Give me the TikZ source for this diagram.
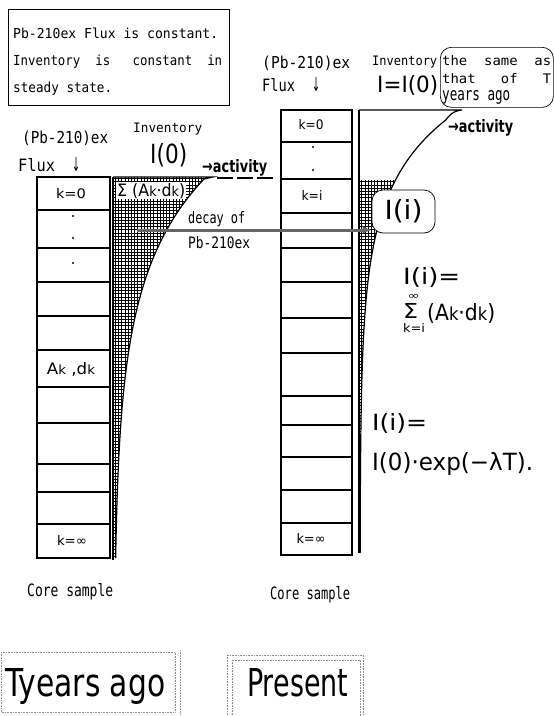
\documentclass[tikz,border=0pt]{standalone}
\usepackage{fontspec}
\usepackage{graphicx}
\setmainfont{DejaVu Sans}
\newfontfamily\gm{DejaVu Sans Mono}
\newfontfamily\gs[FakeStretch=0.8]{DejaVu Sans}
\usetikzlibrary{patterns,arrows.meta}
\newcommand{\fw}[2]{\resizebox{#1pt}{!}{#2}}
\newcommand{\fwh}[3]{\resizebox{#1pt}{#2pt}{#3}}
\newcommand{\sk}{{\fontsize{8}{8}\selectfont k}}
\pgfdeclarepatternformonly{hgrid}{\pgfpoint{-0.5pt}{-0.5pt}}{\pgfpoint{3.8pt}{3.8pt}}{\pgfpoint{3.2pt}{3.2pt}}{%
  \pgfsetlinewidth{0.55pt}%
  \pgfpathmoveto{\pgfpoint{0pt}{0pt}}\pgfpathlineto{\pgfpoint{0pt}{3.21pt}}%
  \pgfpathmoveto{\pgfpoint{0pt}{0pt}}\pgfpathlineto{\pgfpoint{3.21pt}{0pt}}%
  \pgfusepath{stroke}}
\begin{document}
\begin{tikzpicture}[x=1pt,y=-1pt,
  core/.style={line width=1.2pt},
  t/.style={inner sep=0pt, anchor=base west},
  c/.style={inner sep=0pt, anchor=base},
  inv/.style={line width=1.3pt},
  dotc/.style={fill=black, circle, inner sep=0pt, minimum size=2.2pt},
  faint/.style={draw=black!45, densely dotted, line width=0.6pt}]
\useasboundingbox (0,0) rectangle (554,716);

% ---------- top statement box ----------
\node[draw, line width=0.8pt, anchor=north west, minimum width=221pt, minimum height=96pt, inner sep=0pt] (topbox) at (8,9) {};
\node[t] (tl1) at (13,38) {\fwh{205}{10.5}{\gm Pb-210ex Flux is constant.}};
\node[t] (tl2) at (13,65) {\fwh{209}{10.5}{\gm Inventory~~is~~~constant~~in}};
\node[t] (tl3) at (13,92) {\fwh{99}{10.5}{\gm steady state.}};

% ---------- left core (T years ago) ----------
\draw[core] (37,177) rectangle (110,558);
\foreach \yy in {210,248,282,316,350,387,423,464,492,524} \draw[core] (37,\yy) -- (110,\yy);
\node[c] (lk0) at (71,198) {\fwh{30}{10}{\gs k=0}};
\node[dotc] (ld1) at (73,216) {};
\node[dotc] (ld2) at (73,238) {};
\node[dotc] (ld3) at (73,263) {};
\node[c] (lak) at (71,374) {\fwh{48}{12}{\gs A\sk\ ,d\sk}};
\node[c] (lkinf) at (72,545) {\fwh{30}{10}{\gs k=∞}};

% left inventory profile
\fill[pattern=hgrid] (113,177) -- (213,177) -- (204,179) -- plot[variable=\t,domain=179:558,samples=100] ({114+90*exp(-(\t-179)/95)},\t) -- (113,558) -- cycle;
\draw[inv] (113,177) -- (113,560);
\draw[line width=1.2pt] (113,177) -- (213,177) -- (204,179) -- plot[variable=\t,domain=179:558,samples=100] ({114+90*exp(-(\t-179)/95)},\t);
\draw[line width=2.6pt, dash pattern=on 16pt off 4pt] (217,178) -- (275,178);
\node[t, fill=white, inner sep=1pt] (sumL) at (116,196) {\fwh{68}{13}{\gs Σ (A\sk·d\sk)}};

\node[t] (lpb) at (22,143) {\fwh{86}{12.5}{\gm (Pb-210)ex}};
\node[t] (lflux) at (18,171) {\fwh{37}{13}{\gm Flux}};
\node[t] (larr) at (72,171) {\fwh{8}{14}{\gs ↓}};
\node[t] (linv) at (133,132) {\fwh{69}{9.5}{\gm Inventory}};
\node[t] (lI0) at (150,163) {\fwh{37}{20}{\gs I(0)}};
\node[t] (lact) at (202,172) {\fwh{65}{13}{\gs\bfseries →activity}};

\node[t] (decay1) at (188,223) {\fwh{57}{12}{\gm decay~of}};
\node[t] (decay2) at (188,248) {\fwh{62}{12}{\gm Pb-210ex}};

\node[t] (lcore) at (27,596) {\fwh{86}{13}{\gm Core sample}};

% ---------- right core (present) ----------
\draw[core] (281,110) rectangle (352,555);
\foreach \yy in {142,179,213,248,282,318,353,396,425,457,490,523} \draw[core] (281,\yy) -- (352,\yy);
\node[c] (rk0) at (311,129) {\fwh{25}{10}{\gs k=0}};
\node[dotc] (rd1) at (313,147) {};
\node[dotc] (rd2) at (313,170) {};
\node[c] (rki) at (312,200) {\fwh{21}{10}{\gs k=i}};
\node[c] (rkinf) at (311,543) {\fwh{29}{10}{\gs k=∞}};

% right inventory profile
\fill[pattern=hgrid] (359,180) -- plot[variable=\t,domain=180:553,samples=100] ({360+95*exp(-(\t-113)/68)},\t) -- (359,553) -- cycle;
\draw[inv] (359,110) -- (359,553);
\draw[line width=1.2pt] (359,110) -- (462,110) .. controls (452,111) and (449,116) .. (445.7,120) -- plot[variable=\t,domain=120:553,samples=100] ({360+95*exp(-(\t-113)/68)},\t);

\node[draw, fill=white, rounded corners=11pt, minimum width=63pt, minimum height=43pt, inner sep=0pt, line width=0.7pt] (Ii) at (403.5,211.5) {\fwh{38}{20}{\gs I(i)}};

\coordinate (dstart) at (137,230);
\draw[line width=3pt, draw=black!60, -{Latex[length=9pt,width=8pt]}] (dstart) -- (dstart -| Ii.west);

\node[t] (rpb) at (262,68) {\fwh{88}{12.5}{\gm (Pb-210)ex}};
\node[t] (rflux) at (262,91) {\fwh{33}{13}{\gm Flux}};
\node[t] (rarr) at (312,91) {\fwh{8}{14}{\gs ↓}};
\node[t] (rinv) at (372,65) {\fwh{65}{9.5}{\gm Inventory}};
\node[t] (rI0) at (377,92) {\fwh{61}{17}{\gs I=I(0)}};
\node[t] (ract) at (448,132) {\fwh{65}{13}{\gs\bfseries →activity}};

\node[draw, rounded corners=11pt, minimum width=113pt, minimum height=60pt, anchor=north west, inner sep=0pt, line width=0.7pt] (same) at (440,47) {};
\node[t] (s1) at (442,65) {\fwh{109}{10}{\gm the~~same~~as}};
\node[t] (s2) at (442,83) {\fwh{109}{10}{\gm that~~~of~~~T}};
\node[t] (s3) at (442,100) {\fwh{68}{10}{\gm years ago}};

% formulas
\node[t] (f1) at (403,284) {\fwh{57}{17}{\gs I(i)=}};
\node[c] (inf) at (413.5,299) {\fwh{12}{5}{\gs ∞}};
\node[c] (sig) at (410.5,318) {\fwh{15}{15}{\gs Σ}};
\node[c] (kis) at (414,332) {\fwh{22}{9}{\gs k=i}};
\node[t] (akdk) at (427,320) {\fwh{68}{17}{\gs (A\sk·d\sk)}};

\node[t] (f2) at (372,430) {\fwh{55}{17}{\gs I(i)=}};
\node[t] (f3) at (372,470) {\fwh{161}{18}{\gs I(0)·exp(−λT).}};

\node[t] (rcore) at (270,599) {\fwh{80}{13}{\gm Core sample}};

% ---------- bottom labels ----------
\draw[faint] (1,652) rectangle (175,712);
\draw[faint] (180,650) -- (180,716);
\node[t] (tya) at (5,696) {\fwh{160}{28}{\gs Tyears ago}};
\draw[faint] (227,655) rectangle (363,716);
\draw[faint] (232,660) rectangle (360,716);
\node[t] (pres) at (247,696) {\fwh{101}{28}{\gs Present}};
\end{tikzpicture}
\end{document}
